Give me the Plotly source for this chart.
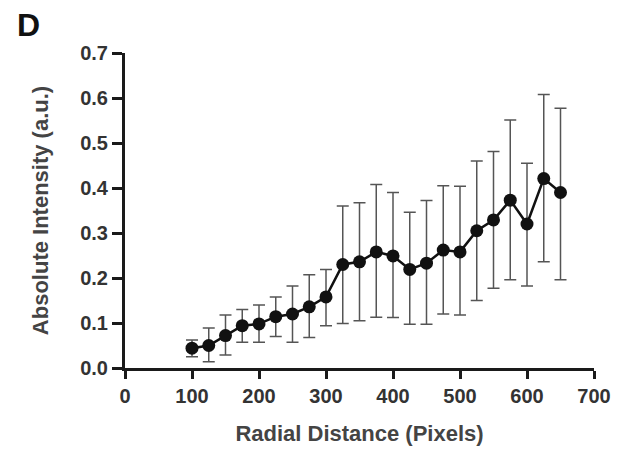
import plotly.graph_objects as go

radial_distance = [100, 125, 150, 175, 200, 225, 250, 275, 300, 325, 350, 375,
                   400, 425, 450, 475, 500, 525, 550, 575, 600, 625, 650]
intensity = [0.044, 0.050, 0.072, 0.094, 0.098, 0.114, 0.120, 0.136, 0.158, 0.230, 0.236, 0.258,
             0.249, 0.219, 0.233, 0.262, 0.258, 0.305, 0.329, 0.373, 0.320, 0.421, 0.390]
err_upper = [0.018, 0.039, 0.046, 0.036, 0.042, 0.044, 0.062, 0.071, 0.061, 0.130, 0.131, 0.150,
             0.141, 0.127, 0.139, 0.143, 0.146, 0.155, 0.152, 0.178, 0.135, 0.187, 0.187]
err_lower = [0.019, 0.036, 0.043, 0.037, 0.041, 0.044, 0.063, 0.068, 0.064, 0.131, 0.131, 0.145,
             0.137, 0.122, 0.136, 0.142, 0.140, 0.155, 0.152, 0.177, 0.138, 0.185, 0.194]

x_ticks = [0, 100, 200, 300, 400, 500, 600, 700]
y_ticks = [0.0, 0.1, 0.2, 0.3, 0.4, 0.5, 0.6, 0.7]
y_tick_labels = ["0.0", "0.1", "0.2", "0.3", "0.4", "0.5", "0.6", "0.7"]

FONT = "Liberation Sans, Arial, sans-serif"

fig = go.Figure()
fig.add_trace(go.Scatter(
    x=radial_distance, y=intensity, mode="lines+markers",
    line=dict(color="#111111", width=2.5),
    marker=dict(color="#111111", size=13),
    error_y=dict(type="data", symmetric=False, array=err_upper, arrayminus=err_lower,
                 color="#555555", thickness=1.5, width=6),
    showlegend=False,
))

fig.update_layout(
    width=623, height=456,
    margin=dict(l=125, r=26, t=53, b=88),
    paper_bgcolor="white", plot_bgcolor="white",
    font=dict(family=FONT, color="#333333"),
    xaxis=dict(
        range=[0, 700], tickvals=x_ticks, showgrid=False, zeroline=False,
        showline=True, linecolor="#1a1a1a", linewidth=3,
        ticks="outside", ticklen=8, tickwidth=3, tickcolor="#1a1a1a",
        tickfont=dict(size=20, family=FONT, color="#333333", weight="bold"),
        title=dict(text="Radial Distance (Pixels)", standoff=20,
                   font=dict(size=22, family=FONT, color="#444444", weight="bold")),
    ),
    yaxis=dict(
        range=[0, 0.7], tickvals=y_ticks, ticktext=y_tick_labels, showgrid=False, zeroline=False,
        showline=True, linecolor="#1a1a1a", linewidth=3,
        ticks="outside", ticklen=10, tickwidth=3, tickcolor="#1a1a1a",
        tickfont=dict(size=20, family=FONT, color="#333333", weight="bold"),
        title=dict(text="Absolute Intensity (a.u.)", standoff=26,
                   font=dict(size=22, family=FONT, color="#444444", weight="bold")),
    ),
)
fig.add_annotation(text="<b>D</b>", xref="paper", yref="paper",
                   x=(14 - 125) / (623 - 125 - 26), y=1 + (53 - 5) / (456 - 53 - 88),
                   xanchor="left", yanchor="top", showarrow=False,
                   font=dict(size=32, family=FONT, color="#111111"))

fig.write_html("out.html")
